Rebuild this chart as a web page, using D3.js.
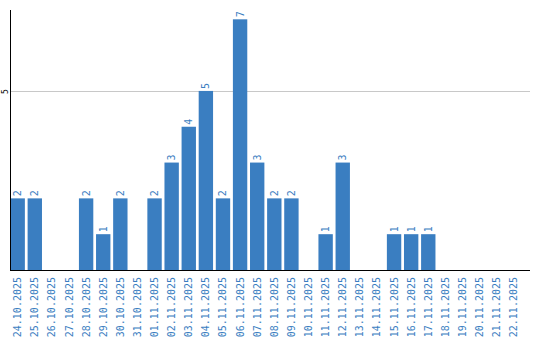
<!DOCTYPE html>
<html>
<head>
<meta charset="utf-8">
<script src="https://cdn.jsdelivr.net/npm/d3@7"></script>
<style>
  body { margin: 0; background: #fff; }
  svg text { font-family: "DejaVu Sans Mono", monospace; }
</style>
</head>
<body>
<div id="chart"></div>
<script>
var dates = [
  "24.10.2025", "25.10.2025", "26.10.2025", "27.10.2025", "28.10.2025",
  "29.10.2025", "30.10.2025", "31.10.2025", "01.11.2025", "02.11.2025",
  "03.11.2025", "04.11.2025", "05.11.2025", "06.11.2025", "07.11.2025",
  "08.11.2025", "09.11.2025", "10.11.2025", "11.11.2025", "12.11.2025",
  "13.11.2025", "14.11.2025", "15.11.2025", "16.11.2025", "17.11.2025",
  "18.11.2025", "19.11.2025", "20.11.2025", "21.11.2025", "22.11.2025"
];
var counts = [2, 2, 0, 0, 2, 1, 2, 0, 2, 3, 4, 5, 2, 7, 3, 2, 2, 0, 1, 3, 0, 0, 1, 1, 1, 0, 0, 0, 0, 0];
var yTicks = [5];

var barColor = "#3a7ec1";
var width = 540, height = 340;
var plotLeft = 10.5, plotRight = 530, plotTop = 10, plotBottom = 270;

var svg = d3.select("#chart").append("svg")
  .attr("width", width)
  .attr("height", height);

var x = d3.scaleBand().domain(dates).range([plotLeft, 521]).paddingInner(0.16).paddingOuter(0);
var y = d3.scaleLinear().domain([0, 7.26]).range([plotBottom, plotTop]);

// grid lines, behind the bars
svg.append("g").selectAll("line")
  .data(yTicks).enter().append("line")
  .attr("x1", plotLeft).attr("x2", plotRight)
  .attr("y1", function (d) { return Math.round(y(d)) + 0.5; })
  .attr("y2", function (d) { return Math.round(y(d)) + 0.5; })
  .attr("stroke", "#c8c8c8").attr("stroke-width", 1);

// one group per day that has a value
var rows = dates.map(function (d, i) { return { date: d, v: counts[i] }; })
  .filter(function (d) { return d.v > 0; });

var bars = svg.append("g").selectAll("g")
  .data(rows).enter().append("g");

bars.append("rect")
  .attr("x", function (d) { return x(d.date); })
  .attr("y", function (d) { return y(d.v); })
  .attr("width", x.bandwidth())
  .attr("height", function (d) { return y(0) - y(d.v); })
  .attr("fill", barColor);

// value labels above the bars
bars.append("text")
  .attr("transform", function (d) {
    return "translate(" + (x(d.date) + x.bandwidth() / 2 + 3.5) + "," + (y(d.v) - 2) + ") rotate(-90)";
  })
  .attr("font-size", "10px")
  .attr("fill", barColor)
  .text(function (d) { return d.v; });

// y axis
svg.append("line")
  .attr("x1", plotLeft).attr("x2", plotLeft)
  .attr("y1", plotTop).attr("y2", plotBottom)
  .attr("stroke", "#000").attr("stroke-width", 1);

svg.append("g").selectAll("text")
  .data(yTicks).enter().append("text")
  .attr("transform", function (d) { return "translate(8," + (y(d) + 3) + ") rotate(-90)"; })
  .attr("font-size", "8px")
  .attr("fill", "#000")
  .text(function (d) { return d; });

// x axis
svg.append("line")
  .attr("x1", plotLeft - 0.5).attr("x2", plotRight)
  .attr("y1", plotBottom + 0.5).attr("y2", plotBottom + 0.5)
  .attr("stroke", "#000").attr("stroke-width", 1);

svg.append("g").selectAll("text")
  .data(dates).enter().append("text")
  .attr("transform", function (d) {
    return "translate(" + (x(d) + x.bandwidth() / 2 + 3.5) + "," + (plotBottom + 7) + ") rotate(-90)";
  })
  .attr("text-anchor", "end")
  .attr("font-size", "10px")
  .attr("fill", barColor)
  .text(function (d) { return d; });
</script>
</body>
</html>
